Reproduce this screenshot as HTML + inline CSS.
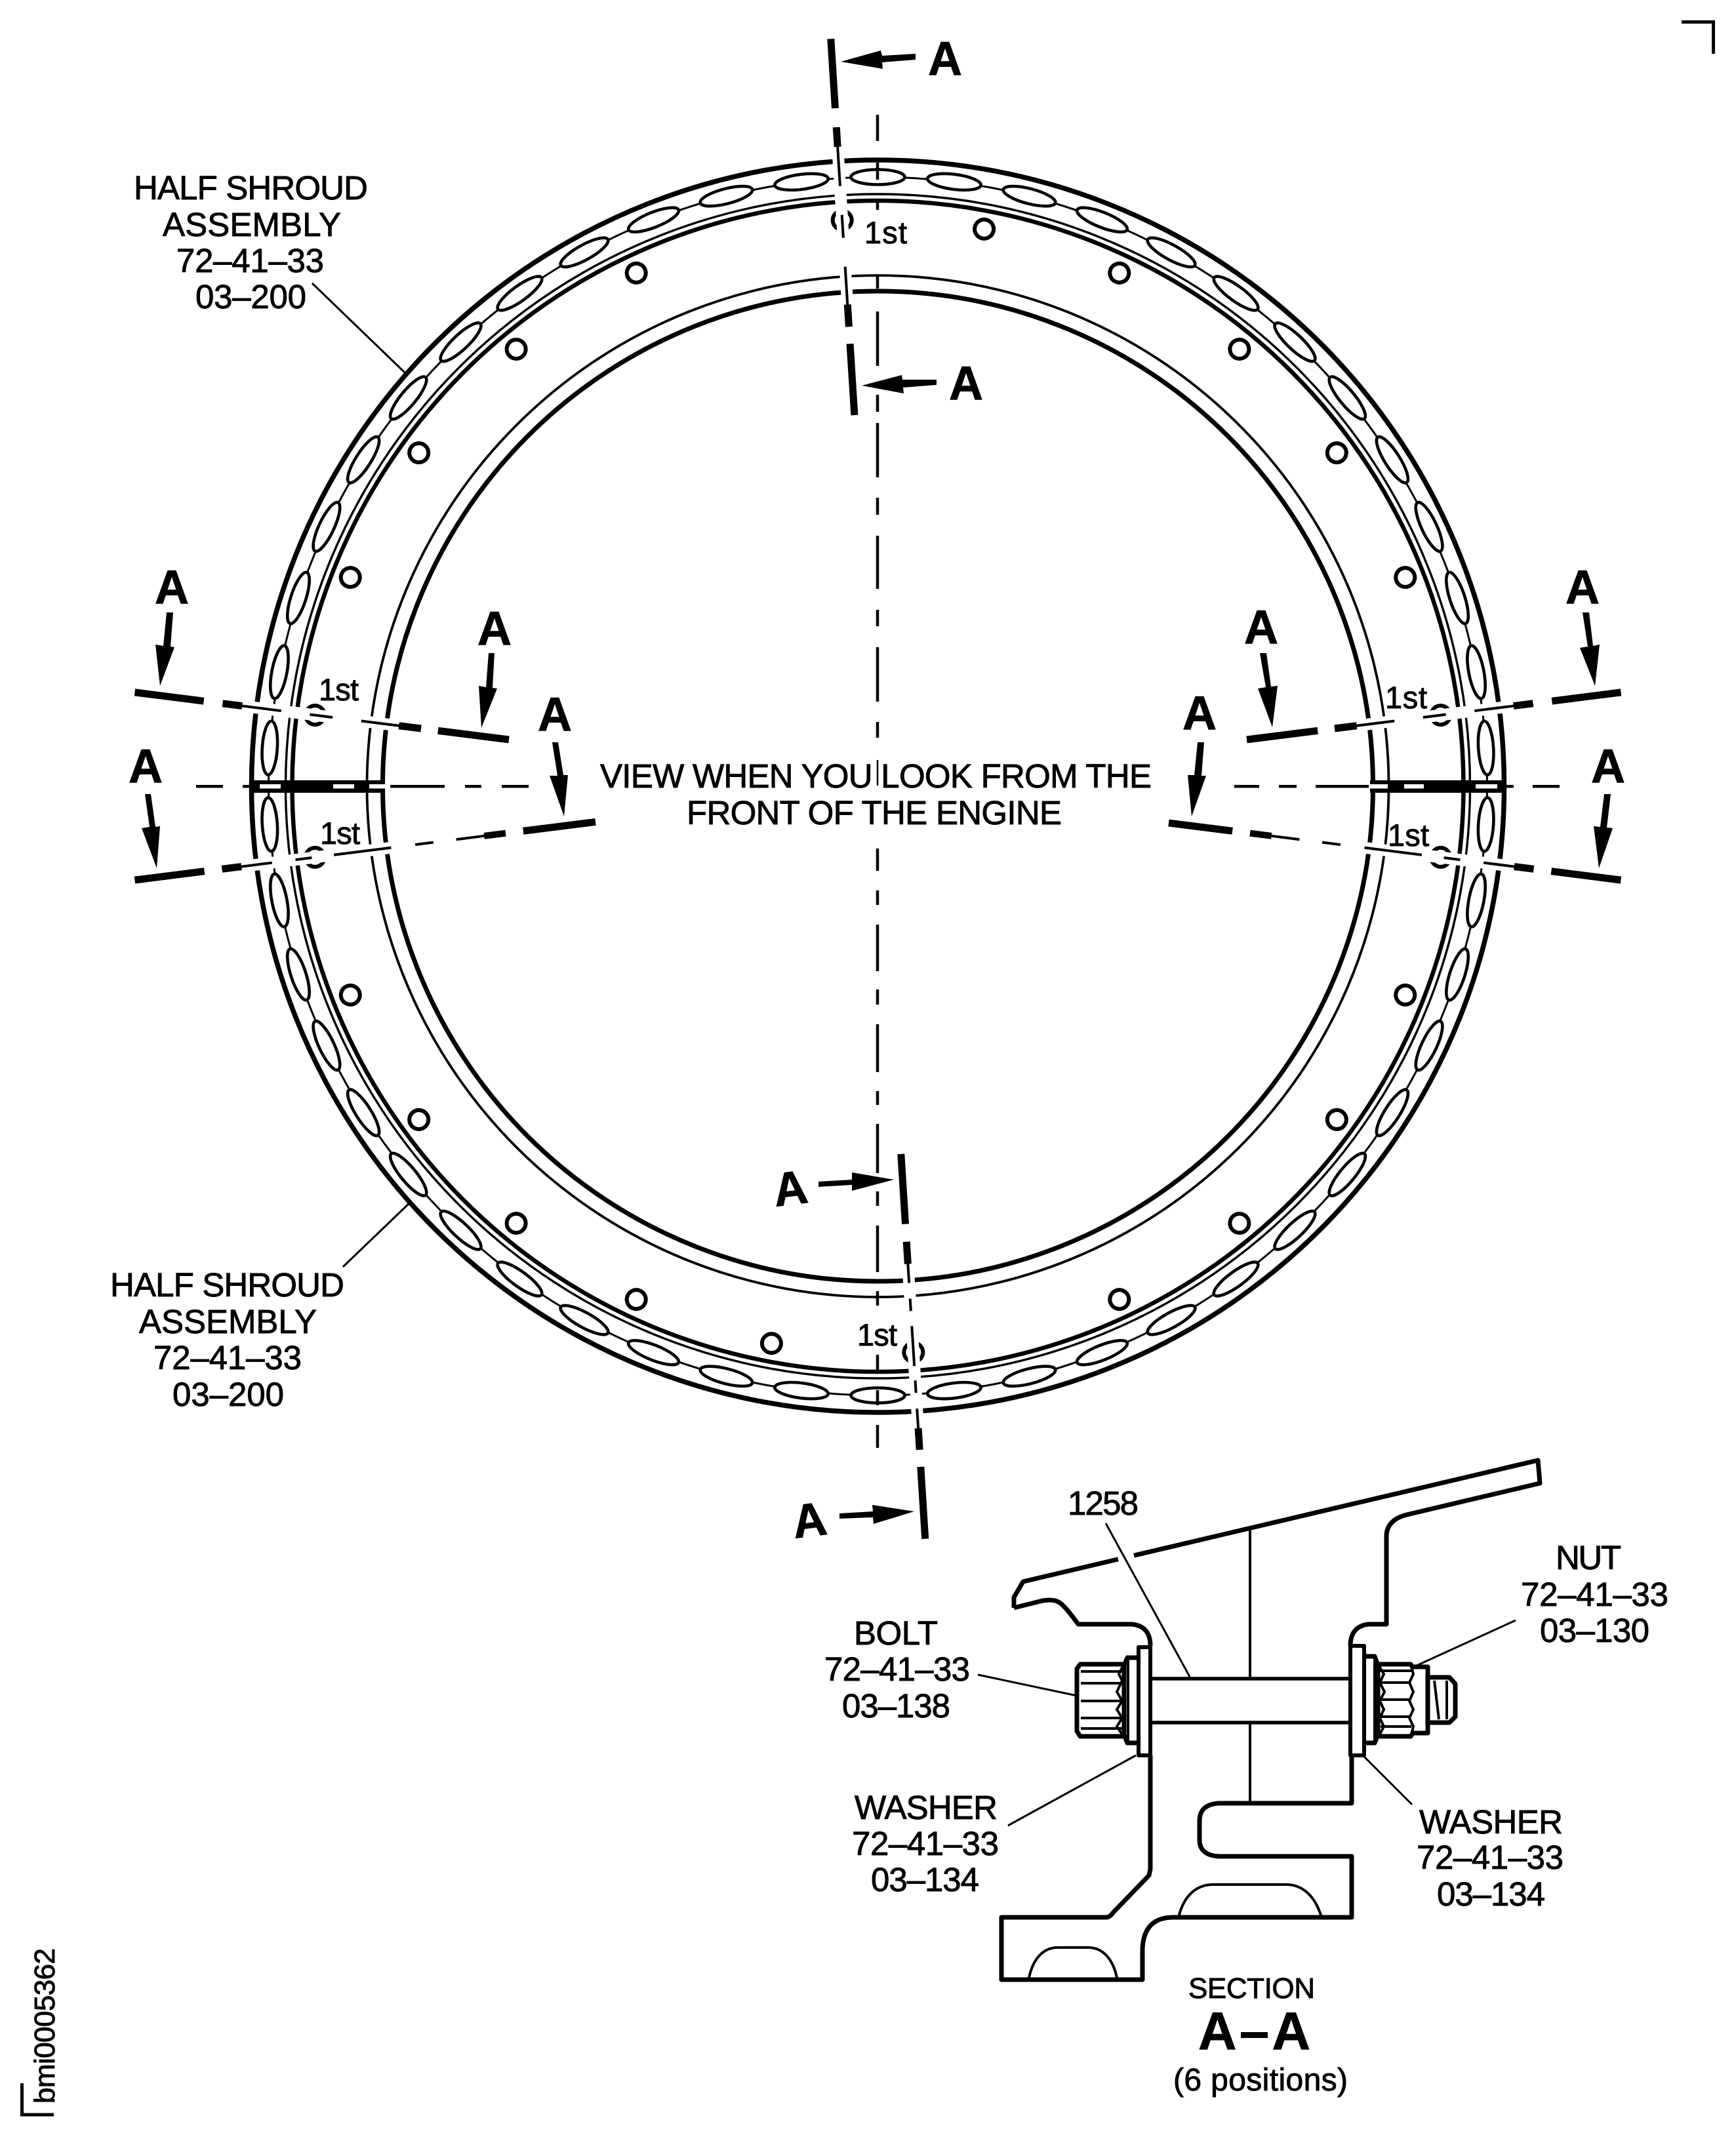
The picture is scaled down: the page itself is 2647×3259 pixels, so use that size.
<!DOCTYPE html>
<html><head><meta charset="utf-8"><title>Section diagram</title>
<style>html,body{margin:0;padding:0;background:#fff}svg{display:block}
text{font-family:"Liberation Sans",Arial,sans-serif;font-size:51px;fill:#000;stroke:#000;stroke-width:.9}
.a{font-size:72px;font-weight:bold}.f{font-size:47px}</style></head><body>
<svg xmlns="http://www.w3.org/2000/svg" width="2647" height="3259" viewBox="0 0 2647 3259">
<defs>
<ellipse id="sl" cx="0" cy="-929" rx="41" ry="11.5" fill="#fff" stroke="#000" stroke-width="4.6"/>
<circle id="h" cx="0" cy="-865" r="14.5" fill="#fff" stroke="#000" stroke-width="6"/>
<rect id="st" x="-9" y="-965" width="18" height="220" fill="#fff"/>
<g id="p1" fill="#000">
<rect x="-5.5" y="-1142" width="11" height="106"/><rect x="-5.5" y="-1007" width="11" height="30"/>
<rect x="-2" y="-978" width="4" height="61"/><rect x="-2" y="-873" width="4" height="35"/>
<rect x="-2" y="-794" width="4" height="60"/><rect x="-5.5" y="-736" width="11" height="34"/>
<rect x="-5.5" y="-676" width="11" height="109"/>
</g>
<g id="p2" fill="#000">
<rect x="-5.5" y="-1142" width="11" height="107"/><rect x="-5.5" y="-1008" width="11" height="30"/>
<rect x="-2" y="-978" width="4" height="47"/><rect x="-2" y="-895" width="4" height="25"/>
<rect x="-2" y="-836" width="4" height="88"/><rect x="-2" y="-711" width="4" height="28"/>
<rect x="-2" y="-648" width="4" height="43"/><rect x="-5" y="-605" width="10" height="33"/>
<rect x="-5.5" y="-545" width="11" height="98"/>
</g>
<g id="p3" fill="#000">
<rect x="-5.5" y="-669" width="11" height="107"/><rect x="-5.5" y="-730" width="11" height="34"/>
<rect x="-2" y="-759" width="4" height="30"/><rect x="-2" y="-802" width="4" height="19"/>
<rect x="-2" y="-886" width="4" height="61"/><rect x="-2" y="-927" width="4" height="19"/>
<rect x="-2" y="-981" width="4" height="30"/><rect x="-5.5" y="-1014" width="11" height="33"/>
<rect x="-5.5" y="-1150" width="11" height="110"/>
</g>
</defs>

<!-- rings -->
<g fill="none" stroke="#000">
<circle cx="1338.5" cy="1199" r="955" stroke-width="7.5"/>
<circle cx="1338.5" cy="1199" r="929" stroke-width="3"/>
<circle cx="1338.5" cy="1199" r="903" stroke-width="3.4"/>
<circle cx="1338.5" cy="1199" r="893" stroke-width="6.5"/>
<circle cx="1338.5" cy="1199" r="779" stroke-width="3.8"/>
<circle cx="1338.5" cy="1199" r="755" stroke-width="7"/>
</g>

<g transform="translate(1338.5 1199)">
<use href="#sl"/><use href="#sl" transform="rotate(7.2)"/><use href="#sl" transform="rotate(14.4)"/><use href="#sl" transform="rotate(21.6)"/><use href="#sl" transform="rotate(28.8)"/>
<use href="#sl" transform="rotate(36)"/><use href="#sl" transform="rotate(43.2)"/><use href="#sl" transform="rotate(50.4)"/><use href="#sl" transform="rotate(57.6)"/><use href="#sl" transform="rotate(64.8)"/>
<use href="#sl" transform="rotate(72)"/><use href="#sl" transform="rotate(79.2)"/><use href="#sl" transform="rotate(86.4)"/><use href="#sl" transform="rotate(93.6)"/><use href="#sl" transform="rotate(100.8)"/>
<use href="#sl" transform="rotate(108)"/><use href="#sl" transform="rotate(115.2)"/><use href="#sl" transform="rotate(122.4)"/><use href="#sl" transform="rotate(129.6)"/><use href="#sl" transform="rotate(136.8)"/>
<use href="#sl" transform="rotate(144)"/><use href="#sl" transform="rotate(151.2)"/><use href="#sl" transform="rotate(158.4)"/><use href="#sl" transform="rotate(165.6)"/><use href="#sl" transform="rotate(172.8)"/>
<use href="#sl" transform="rotate(180)"/><use href="#sl" transform="rotate(187.2)"/><use href="#sl" transform="rotate(194.4)"/><use href="#sl" transform="rotate(201.6)"/><use href="#sl" transform="rotate(208.8)"/>
<use href="#sl" transform="rotate(216)"/><use href="#sl" transform="rotate(223.2)"/><use href="#sl" transform="rotate(230.4)"/><use href="#sl" transform="rotate(237.6)"/><use href="#sl" transform="rotate(244.8)"/>
<use href="#sl" transform="rotate(252)"/><use href="#sl" transform="rotate(259.2)"/><use href="#sl" transform="rotate(266.4)"/><use href="#sl" transform="rotate(273.6)"/><use href="#sl" transform="rotate(280.8)"/>
<use href="#sl" transform="rotate(288)"/><use href="#sl" transform="rotate(295.2)"/><use href="#sl" transform="rotate(302.4)"/><use href="#sl" transform="rotate(309.6)"/><use href="#sl" transform="rotate(316.8)"/>
<use href="#sl" transform="rotate(324)"/><use href="#sl" transform="rotate(331.2)"/><use href="#sl" transform="rotate(338.4)"/><use href="#sl" transform="rotate(345.6)"/><use href="#sl" transform="rotate(352.8)"/>

<use href="#h" transform="rotate(-3.6)"/><use href="#h" transform="rotate(10.8)"/><use href="#h" transform="rotate(25.2)"/><use href="#h" transform="rotate(39.6)"/>
<use href="#h" transform="rotate(54)"/><use href="#h" transform="rotate(68.4)"/><use href="#h" transform="rotate(82.8)"/><use href="#h" transform="rotate(97.2)"/>
<use href="#h" transform="rotate(111.6)"/><use href="#h" transform="rotate(126)"/><use href="#h" transform="rotate(140.4)"/><use href="#h" transform="rotate(154.8)"/>
<use href="#h" transform="rotate(176.4)"/><use href="#h" transform="rotate(190.8)"/><use href="#h" transform="rotate(205.2)"/><use href="#h" transform="rotate(219.6)"/>
<use href="#h" transform="rotate(234)"/><use href="#h" transform="rotate(248.4)"/><use href="#h" transform="rotate(262.8)"/><use href="#h" transform="rotate(277.2)"/>
<use href="#h" transform="rotate(291.6)"/><use href="#h" transform="rotate(306)"/><use href="#h" transform="rotate(320.4)"/><use href="#h" transform="rotate(334.8)"/>

<use href="#st" transform="rotate(-3.6)"/><use href="#st" transform="rotate(82.8)"/><use href="#st" transform="rotate(97.2)"/>
<use href="#st" transform="rotate(176.4)"/><use href="#st" transform="rotate(262.8)"/><use href="#st" transform="rotate(277.2)"/>

<use href="#p1" transform="rotate(-3.6)"/><use href="#p1" transform="rotate(82.8)"/><use href="#p1" transform="rotate(277.2)"/>
<use href="#p2" transform="rotate(97.2)"/><use href="#p2" transform="rotate(262.8)"/>
<rect x="-5.5" y="-450" width="11" height="16" fill="#000" transform="rotate(262.8)"/>
<use href="#p3" transform="rotate(176.4)"/>
</g>

<!-- horizontal split bars -->
<rect x="380" y="1190" width="206" height="19" fill="#000"/>
<g fill="#fff"><rect x="396" y="1196" width="32" height="6.5"/><rect x="508" y="1196" width="32" height="6.5"/><rect x="563" y="1196" width="24" height="6.5"/></g>
<rect x="2089" y="1190" width="207" height="19" fill="#000"/>
<g fill="#fff"><rect x="2088" y="1196" width="28" height="6.5"/><rect x="2141" y="1196" width="30" height="6.5"/><rect x="2250" y="1196" width="33" height="6.5"/></g>

<!-- axis dashes -->
<g fill="#000">
<rect x="299" y="1197" width="41" height="4.5"/><rect x="370" y="1197" width="14" height="4.5"/>
<rect x="595" y="1197" width="83" height="4.5"/><rect x="709" y="1197" width="25" height="4.5"/><rect x="765" y="1197" width="41" height="4.5"/>
<rect x="1882" y="1197" width="38" height="4.5"/><rect x="1950" y="1197" width="27" height="4.5"/><rect x="2006" y="1197" width="81" height="4.5"/>
<rect x="2294" y="1197" width="14" height="4.5"/><rect x="2337" y="1197" width="41" height="4.5"/>
</g>
<g stroke="#000" stroke-width="4.5">
<path d="M1338 175V215M1338 248V274M1338 309V320M1338 421V440M1338 475V558M1338 602V628M1338 645V728M1338 759V785M1338 817V898M1338 930V955M1338 987V1070M1338 1101V1125"/>
<path d="M1338 1294V1328M1338 1358V1380M1338 1410V1481M1338 1509V1532M1338 1562V1635M1338 1664V1685M1338 1714V1789M1338 1817V1839M1338 1869V1940M1338 1969V1991M1338 2066V2089M1338 2120V2143M1338 2173V2208"/>
<path d="M1338 1159V1198" stroke-width="2.5"/>
</g>

<!-- section arrows -->
<g fill="#000">
<path d="M1282 94L1343 77L1345 85L1396 82L1396 91L1345 95L1346 105Z"/>
<path d="M1314 588L1375 572L1376 579L1428 579L1428 587L1377 591L1378 600Z"/>
<path d="M1363 1799L1299 1788L1299 1799L1248 1802L1248 1810L1299 1807L1299 1816Z"/>
<path d="M1394 2305L1330 2295L1331 2305L1280 2308L1280 2316L1331 2314L1332 2324Z"/>
<path d="M244 1046L237 983L249 985L254 934L264 934L260 986L266 987Z"/>
<path d="M734 1110L730 1046L741 1048L745 996L754 996L751 1049L758 1050Z"/>
<path d="M860 1245L838 1183L850 1183L842 1132L851 1132L859 1182L866 1182Z"/>
<path d="M239 1324L216 1263L228 1261L221 1211L230 1211L237 1261L244 1260Z"/>
<path d="M2432 1046L2409 988L2421 986L2413 934L2423 934L2429 985L2439 983Z"/>
<path d="M1940 1109L1918 1050L1930 1048L1921 996L1931 996L1938 1047L1948 1046Z"/>
<path d="M1817 1245L1811 1182L1821 1182L1826 1132L1836 1132L1832 1183L1839 1183Z"/>
<path d="M2438 1324L2430 1260L2440 1261L2446 1211L2456 1211L2450 1262L2459 1263Z"/>
</g>

<!-- section letters -->
<text class="a" x="1415" y="114" textLength="53">A</text>
<text class="a" x="1447" y="609" textLength="53">A</text>
<text class="a" x="236" y="920" textLength="53">A</text>
<text class="a" x="728" y="983" textLength="53">A</text>
<text class="a" x="820" y="1114" textLength="53">A</text>
<text class="a" x="196" y="1193" textLength="53">A</text>
<text class="a" x="2387" y="920" textLength="54">A</text>
<text class="a" x="1903" y="981" textLength="52" transform="translate(-6 0)">A</text>
<text class="a" x="1803" y="1112" textLength="52">A</text>
<text class="a" x="2426" y="1193" textLength="53">A</text>
<text class="a" x="1180" y="1837" transform="rotate(-7 1206 1819)" textLength="52">A</text>
<text class="a" x="1209" y="2343" transform="rotate(-7 1235 2324)" textLength="52">A</text>

<!-- 1st -->
<text class="f" x="1318" y="371" textLength="65">1st</text>
<text class="f" x="486" y="1068" textLength="61">1st</text>
<text class="f" x="488" y="1287" textLength="61">1st</text>
<text class="f" x="2112" y="1080" textLength="64">1st</text>
<text class="f" x="2116" y="1290" textLength="63">1st</text>
<text class="f" x="1307" y="2052" textLength="61">1st</text>

<!-- centre note -->
<text x="915" y="1201" textLength="841">VIEW WHEN YOU LOOK FROM THE</text>
<text x="1047" y="1257" textLength="572">FRONT OF THE ENGINE</text>

<!-- half shroud labels -->
<text x="204" y="304" textLength="357">HALF SHROUD</text>
<text x="248" y="360" textLength="272">ASSEMBLY</text>
<text x="269" y="415" textLength="225">72–41–33</text>
<text x="298" y="470" textLength="169">03–200</text>
<text x="168" y="1977" textLength="357">HALF SHROUD</text>
<text x="212" y="2033" textLength="271">ASSEMBLY</text>
<text x="234" y="2088" textLength="226">72–41–33</text>
<text x="263" y="2144" textLength="170">03–200</text>
<path d="M476 432L617 568M523 1932L625 1834" stroke="#000" stroke-width="3" fill="none"/>

<!-- section A-A drawing -->
<g fill="none" stroke="#000" stroke-width="7" stroke-linejoin="round">
<path d="M1546 2452V2436L1560 2412L2345 2227L2348 2262L2145 2310Q2114 2318 2114 2343V2477H2087Q2059 2480 2059 2510"/>
<path d="M1546 2452L1590 2441Q1608 2438 1617 2445Q1626 2452 1644 2477H1726Q1754 2480 1754 2510"/>
<path d="M1754 2677V2850L1752 2860L1697 2917Q1692 2924 1687 2924H1527V3019H1742V2972Q1744 2924 1789 2924H2061V2831H1858Q1829 2829 1829 2806V2777Q1829 2752 1858 2750H2061V2677"/>
</g>
<g fill="none" stroke="#000" stroke-width="4">
<path d="M1906 2334V2558M1906 2629V2748"/>
<path d="M1569 3016C1575 2988 1590 2970 1613 2970H1659C1682 2970 1697 2988 1703 3016"/>
<path d="M1797 2924C1805 2890 1825 2874 1850 2874H1961C1985 2874 2005 2890 2015 2924"/>
</g>
<!-- shaft -->
<path d="M1756 2560H2058M1756 2627H2058" stroke="#000" stroke-width="5.5" fill="none"/>
<!-- left bolt -->
<g fill="none" stroke="#000" stroke-width="7" stroke-linejoin="round">
<path d="M1754 2512H1736V2677H1754Z" stroke-width="6"/>
<path d="M1735 2528H1719L1714 2540V2646L1719 2658H1735"/>
<path d="M1712 2538H1647L1642 2545V2640L1647 2648H1712"/>
</g>
<g fill="none" stroke="#000" stroke-width="4">
<path d="M1720 2530V2656"/>
<path d="M1648 2549H1712M1648 2567H1710M1648 2594H1711M1648 2620H1711M1648 2636H1711"/>
<path d="M1712 2541L1706 2553L1711 2563L1703 2580L1711 2594L1703 2607L1711 2620L1703 2633L1711 2645"/>
</g>
<!-- right nut -->
<g fill="none" stroke="#000" stroke-width="7" stroke-linejoin="round">
<path d="M2059 2510H2080V2677H2059Z" stroke-width="6"/>
<path d="M2080 2526H2096L2101 2540V2646L2096 2658H2080"/>
<path d="M2103 2538H2151L2155 2545M2103 2648H2151L2155 2642"/>
<path d="M2153 2542H2177V2643H2153"/>
<path d="M2179 2558H2210L2219 2568V2618L2210 2627H2179"/>
</g>
<g fill="none" stroke="#000" stroke-width="4">
<path d="M2096 2530V2656"/>
<path d="M2104 2548H2152M2105 2566H2150M2105 2592H2150M2105 2618H2150M2105 2633H2152"/>
<path d="M2103 2541L2110 2553L2104 2566L2111 2580L2104 2594L2110 2607L2104 2620L2110 2633L2104 2645"/>
<path d="M2152 2541L2155 2553L2149 2566L2155 2580L2149 2594L2155 2607L2149 2620L2155 2633L2152 2645"/>
<path d="M2187 2563L2194 2622M2206 2563V2622"/>
</g>
<!-- leaders -->
<path d="M1705 2378L1729 2372" stroke="#fff" stroke-width="12" fill="none"/>
<path d="M1686 2323L1814 2557M1491 2554L1642 2586M1537 2784L1732 2677M2153 2752L2078 2677M2311 2471L2160 2540" stroke="#000" stroke-width="3" fill="none"/>

<!-- section labels -->
<text x="1628" y="2310" textLength="108">1258</text>
<text x="1302" y="2508" textLength="128">BOLT</text>
<text x="1257" y="2563" textLength="222">72–41–33</text>
<text x="1284" y="2619" textLength="165">03–138</text>
<text x="1303" y="2774" textLength="218">WASHER</text>
<text x="1299" y="2829" textLength="224">72–41–33</text>
<text x="1328" y="2884" textLength="165">03–134</text>
<text x="2164" y="2796" textLength="219">WASHER</text>
<text x="2160" y="2850" textLength="224">72–41–33</text>
<text x="2191" y="2906" textLength="165">03–134</text>
<text x="2372" y="2393" textLength="100">NUT</text>
<text x="2319" y="2449" textLength="225">72–41–33</text>
<text x="2348" y="2504" textLength="167">03–130</text>
<text x="1812" y="3047" style="font-size:44px" textLength="193">SECTION</text>
<text x="1827" y="3125" style="font-size:81px;font-weight:bold" textLength="171">A–A</text>
<text x="1789" y="3188" style="font-size:48px" textLength="266">(6 positions)</text>

<!-- corner marks -->
<path d="M2564 33.5H2612.5V82M33.5 3177V3225H82" fill="none" stroke="#000" stroke-width="5"/>
<text transform="translate(83 3208) rotate(-90)" style="font-size:44px" textLength="237">bmi0005362</text>
</svg>
</body></html>
